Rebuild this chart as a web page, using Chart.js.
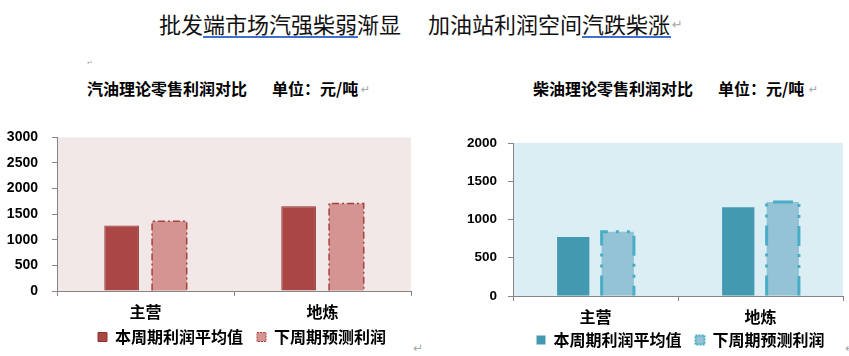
<!DOCTYPE html>
<html><head><meta charset="utf-8">
<script src="https://cdn.jsdelivr.net/npm/chart.js@4/dist/chart.umd.min.js"></script>
<style>
html,body{margin:0;padding:0;background:#fff;width:849px;height:356px;overflow:hidden;position:relative;}
.t{position:absolute;white-space:nowrap;font-family:'Noto Sans CJK SC',sans-serif;}
.title{font-size:22px;line-height:22px;top:12px;color:#111;}
.sub{font-size:16px;line-height:16px;top:80px;font-weight:bold;color:#000;}
.ret{position:absolute;color:#a8a8a8;font-family:'DejaVu Sans',sans-serif;font-size:11px;line-height:11px;}
.ul{position:absolute;height:2px;background:#3f6fcf;top:36px;}
canvas{position:absolute;}
</style></head><body>
<div class="t title" style="left:159px;">批发端市场汽强柴弱渐显</div>
<div class="t title" style="left:428px;">加油站利润空间汽跌柴涨</div>
<div class="ul" style="left:203px;width:155px;"></div>
<div class="ul" style="left:582px;width:89px;"></div>
<div class="ret" style="left:672px;top:19px;font-size:13px;">↵</div>
<div class="ret" style="left:87px;top:58px;font-size:7px;">↵</div>
<div class="t sub" style="left:87px;">汽油理论零售利润对比</div>
<div class="t sub" style="left:272px;">单位：元/吨</div>
<div class="ret" style="left:361px;top:84px;">↵</div>
<div class="t sub" style="left:533px;">柴油理论零售利润对比</div>
<div class="t sub" style="left:718px;">单位：元/吨</div>
<div class="ret" style="left:809px;top:84px;">↵</div>
<div class="ret" style="left:413px;top:343px;font-size:12px;">↵</div>
<div class="ret" style="left:845px;top:343px;font-size:12px;">↵</div>
<canvas id="gas" width="484" height="240" style="left:0px;top:115px;"></canvas>
<canvas id="diesel" width="481" height="238" style="left:440px;top:120px;"></canvas>
<script>
const categories = ['主营', '地炼'];
const seriesNames = ['本周期利润平均值', '下周期预测利润'];
const gasCurrent = [1280, 1655];
const gasNext = [1360, 1710];
const dieselCurrent = [770, 1160];
const dieselNext = [840, 1230];
const gasAxis = { min: 0, max: 3000, step: 500 };
const dieselAxis = { min: 0, max: 2000, step: 500 };

const bgPlugin = {
  id: 'plotBg',
  beforeDraw(chart, args, opts) {
    const { ctx, chartArea: a } = chart;
    ctx.save();
    ctx.fillStyle = opts.color;
    ctx.fillRect(a.left, a.top, a.right - a.left, a.bottom - a.top);
    ctx.restore();
  }
};
const dashPlugin = {
  id: 'dashBorder',
  afterDatasetsDraw(chart, args, opts) {
    const meta = chart.getDatasetMeta(opts.dataset);
    const ctx = chart.ctx;
    ctx.save();
    ctx.strokeStyle = opts.color;
    ctx.lineWidth = opts.width;
    ctx.setLineDash(opts.dash);
    meta.data.forEach(bar => {
      const p = bar.getProps(['x', 'y', 'base', 'width'], true);
      const l = p.x - p.width / 2, r = p.x + p.width / 2;
      ctx.beginPath();
      ctx.moveTo(l, p.base);
      ctx.lineTo(l, p.y);
      ctx.lineTo(r, p.y);
      ctx.lineTo(r, p.base);
      ctx.stroke();
    });
    ctx.restore();
  }
};

function makeChart(id, cfg) {
  const cjk = "'Noto Sans CJK SC', sans-serif";
  return new Chart(document.getElementById(id), {
    type: 'bar',
    data: {
      labels: categories,
      datasets: [
        { label: seriesNames[0], data: cfg.cur, backgroundColor: cfg.c1, borderColor: cfg.b1, borderWidth: cfg.b1w,
          categoryPercentage: 0.54, barPercentage: 0.725 },
        { label: seriesNames[1], data: cfg.next, backgroundColor: cfg.c2, borderWidth: 0,
          categoryPercentage: 0.54, barPercentage: 0.725 }
      ]
    },
    options: {
      responsive: false,
      animation: false,
      layout: { padding: { top: cfg.padTop, left: 0, right: 0, bottom: 0 } },
      scales: {
        x: {
          grid: { drawOnChartArea: false, drawTicks: true, tickLength: 5, color: '#868686', offset: true },
          border: { display: true, color: '#868686', width: 1 },
          ticks: { color: '#000', padding: cfg.xPad, mirror: true, font: { family: cjk, size: 16, weight: 'bold' } },
          afterFit(s) { s.height = cfg.xH; }
        },
        y: {
          min: cfg.axis.min, max: cfg.axis.max,
          grid: { drawOnChartArea: false, drawTicks: true, tickLength: 5, color: '#868686' },
          border: { display: true, color: '#868686', width: 1 },
          ticks: { stepSize: cfg.axis.step, color: '#000', padding: cfg.yPad,
                   callback: v => String(v),
                   font: { family: "'Liberation Sans', Arial, sans-serif", size: cfg.yFont, weight: 'bold' } },
          afterFit(s) { s.width = cfg.yW; }
        },
        yR: {
          type: 'linear', position: 'right', display: true,
          grid: { display: false }, border: { display: false }, ticks: { display: false },
          afterFit(s) { s.width = cfg.rW; }
        }
      },
      plugins: {
        tooltip: { enabled: false },
        plotBg: { color: cfg.bg },
        dashBorder: { dataset: 1, color: cfg.dashColor, width: cfg.dashW, dash: cfg.dash },
        legend: {
          position: 'bottom',
          labels: {
            boxWidth: 9, boxHeight: 9, padding: 14, color: '#000',
            font: { family: cjk, size: 16, weight: 'bold' },
            generateLabels(chart) {
              const items = Chart.defaults.plugins.legend.labels.generateLabels(chart);
              items[1].strokeStyle = cfg.dashColor;
              items[1].lineWidth = cfg.legW;
              items[1].lineDash = [2, 1];
              return items;
            }
          }
        }
      }
    },
    plugins: [bgPlugin, dashPlugin]
  });
}

makeChart('gas', {
  cur: gasCurrent, next: gasNext, axis: gasAxis,
  c1: '#AA4643', b1: '#8B3533', b1w: 1, c2: '#D39492',
  dashColor: '#A8403E', dashW: 1.5, dash: [7, 3, 2, 3], legW: 1,
  bg: '#F2E8E7', padTop: 0, xH: 24, xPad: -30.6, yW: 57, rW: 73, yPad: 14, yFont: 14
});
makeChart('diesel', {
  cur: dieselCurrent, next: dieselNext, axis: dieselAxis,
  c1: '#4399B0', b1: '#4399B0', b1w: 0, c2: '#93C3D5',
  dashColor: '#4BACC6', dashW: 3, dash: [20, 8, 3, 8, 3, 8], legW: 2,
  bg: '#DBEEF4', padTop: 23, xH: 22, xPad: -30.1, yW: 73, rW: 78, yPad: 11, yFont: 13.5
});
</script>
</body></html>
